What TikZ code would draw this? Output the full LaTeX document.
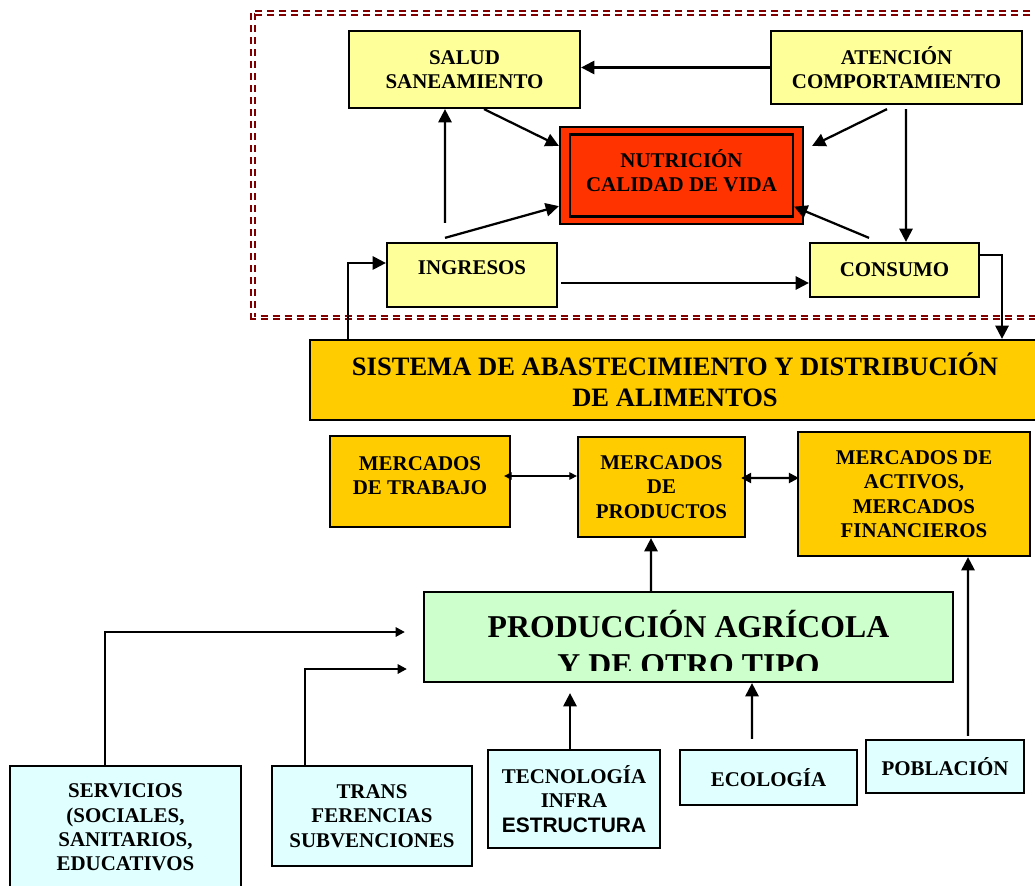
\documentclass[tikz,border=0pt]{standalone}
\usepackage{fontspec}
\setmainfont{Liberation Serif}
\newfontfamily\sansb{Liberation Sans}
\usetikzlibrary{arrows.meta}
\pgfdeclarelayer{bg}
\pgfsetlayers{bg,main}
\definecolor{lightyel}{HTML}{FFFF99}
\definecolor{nutred}{HTML}{FF3300}
\definecolor{marketor}{HTML}{FFCC00}
\definecolor{agrigreen}{HTML}{CCFFCC}
\definecolor{basecyan}{HTML}{E0FFFF}
\definecolor{framered}{HTML}{800000}
\newcommand\uptext[2]{\raisebox{#1}[\height][\depth]{#2}}
\tikzset{
    every node/.style={rectangle, draw, line width=1.6pt, inner sep=0mm, align=center,
        font=\bfseries\fontsize{14.9pt}{17.4pt}\selectfont}
}
\tikzset{ybox/.style={fill=lightyel}, rbox/.style={fill=nutred}, obox/.style={fill=marketor},
    gbox/.style={fill=agrigreen}, cbox/.style={fill=basecyan}}
\tikzset{
    arr/.style={-{Triangle[length=3.3mm,width=3.3mm]}, line width=1.6pt},
    sarr/.style={-{Triangle[length=2.3mm,width=2.3mm]}, line width=1.6pt},
    thinboth/.style={{Triangle[length=1.9mm,width=1.9mm]}-{Triangle[length=1.9mm,width=1.9mm]}, line width=0.8pt},
    thickboth/.style={{Triangle[length=2.5mm,width=2.5mm]}-{Triangle[length=2.5mm,width=2.5mm]}, line width=1.6pt},
    frame/.style={draw=framered, line width=1.4pt, double=white, double distance=1.4pt,
        dash pattern=on 0.175cm off 0.125cm}
}

\begin{document}
\begin{tikzpicture}
        \useasboundingbox (0cm, 0cm) rectangle (25.875cm, -22.15cm);
        \clip (0cm, 0cm) rectangle (25.875cm, -22.15cm);
        \node (salud) [ybox, minimum width=5.775cm, minimum height=1.925cm] at (11.612500cm, -1.737500cm) {SALUD\\SANEAMIENTO};
        \node (aten) [ybox, minimum width=6.275cm, minimum height=1.825cm] at (22.412500cm, -1.687500cm) {ATENCIÓN\\COMPORTAMIENTO};
        \node (nutout) [rbox, minimum width=6.075cm, minimum height=2.425cm] at (17.037500cm, -4.387500cm) {};
        \node (nut) [rbox, minimum width=5.575cm, minimum height=2.05cm] at (17.037500cm, -4.387500cm) {\uptext{0.125cm}{NUTRICIÓN}\\\uptext{0.125cm}{CALIDAD DE VIDA}};
        \node (ingr) [ybox, minimum width=4.25cm, minimum height=1.6cm] at (11.800000cm, -6.875000cm) {\uptext{0.175cm}{INGRESOS}};
        \node (cons) [ybox, minimum width=4.225cm, minimum height=1.35cm] at (22.362500cm, -6.750000cm) {CONSUMO};
        \node (sist) [obox, minimum width=18.25cm, minimum height=2cm, font=\bfseries\fontsize{18.9pt}{22.1pt}\selectfont] at (16.875000cm, -9.500000cm) {SISTEMA DE ABASTECIMIENTO Y DISTRIBUCIÓN\\DE ALIMENTOS};
        \node (trab) [obox, minimum width=4.5cm, minimum height=2.275cm] at (10.500000cm, -12.037500cm) {\uptext{0.15cm}{MERCADOS}\\\uptext{0.15cm}{DE TRABAJO}};
        \node (prod) [obox, minimum width=4.175cm, minimum height=2.5cm] at (16.537500cm, -12.175000cm) {MERCADOS\\DE\\PRODUCTOS};
        \node (activ) [obox, minimum width=5.8cm, minimum height=3.1cm] at (22.850000cm, -12.350000cm) {MERCADOS DE\\ACTIVOS,\\MERCADOS\\FINANCIEROS};
        \node (agri) [gbox, minimum width=13.225cm, minimum height=2.25cm] at (17.212500cm, -15.925000cm) {};
        \begin{scope}
                \clip (10.6cm, -14.8cm) rectangle (23.825cm, -16.75cm);
                \node (agritxt) [draw=none, font=\bfseries\fontsize{22.6pt}{27pt}\selectfont] at (17.212500cm, -16.075000cm) {PRODUCCIÓN AGRÍCOLA\\Y DE OTRO TIPO};
        \end{scope}
        \node (serv) [cbox, minimum width=5.775cm, minimum height=3.075cm] at (3.137500cm, -20.687500cm) {SERVICIOS\\(SOCIALES,\\SANITARIOS,\\EDUCATIVOS};
        \node (trans) [cbox, minimum width=5cm, minimum height=2.5cm] at (9.300000cm, -20.400000cm) {TRANS\\FERENCIAS\\SUBVENCIONES};
        \node (tecn) [cbox, minimum width=4.3cm, minimum height=2.45cm] at (14.350000cm, -19.975000cm) {TECNOLOGÍA\\INFRA\\{\sansb ESTRUCTURA}};
        \node (ecol) [cbox, minimum width=4.425cm, minimum height=1.375cm] at (19.212500cm, -19.437500cm) {ECOLOGÍA};
        \node (pobl) [cbox, minimum width=3.95cm, minimum height=1.325cm] at (23.625000cm, -19.162500cm) {POBLACIÓN};
        % tips that sit on a box edge
        \draw[arr] ([xshift=-0.6375cm,yshift=0.1cm]cons.north) -- ([yshift=0.275cm]nut.south east);
        \draw[thinboth] ([xshift=-0.175cm,yshift=0.1375cm]trab.east) -- ([yshift=0.275cm]prod.west);
        \draw[thickboth] ([xshift=-0.125cm,yshift=0.225cm]prod.east) -- ([xshift=0.05cm,yshift=0.4cm]activ.west);
        \begin{pgfonlayer}{bg}
                \draw[frame] (6.325cm, -0.33cm) rectangle (26.125cm, -7.9375cm);
                \draw[arr] (aten.west) -- (salud.east |- aten.west);
                \draw[arr] ([xshift=0.4875cm]salud.south) -- ([yshift=-0.5cm]nutout.north west);
                \draw[arr] ([xshift=-0.675cm,yshift=0.475cm]ingr.north) -- ([xshift=-0.4875cm]salud.south);
                \draw[arr] ([xshift=-0.675cm,yshift=0.1cm]ingr.north) -- ([yshift=0.475cm]nutout.south west);
                \draw[arr] ([xshift=-0.2375cm,yshift=-0.1cm]aten.south) -- ([xshift=0.2cm,yshift=-0.5cm]nutout.north east);
                \draw[arr] ([xshift=0.2375cm,yshift=-0.1cm]aten.south) -- ([xshift=0.2875cm]cons.north);
                \draw[arr] ([xshift=0.075cm,yshift=-0.2cm]ingr.east) -- ([yshift=-0.325cm]cons.west);
                \draw[arr] ([yshift=0.375cm]cons.east) -| ([xshift=8.175cm]sist.north);
                \draw[arr] ([xshift=0.975cm]sist.north west) |- ([yshift=0.3cm]ingr.west);
                \draw[arr] ([xshift=-0.9375cm,yshift=-0.15cm]agri.north) -- ([xshift=-0.2625cm]prod.south);
                \draw[arr] ([xshift=0.575cm,yshift=0.075cm]pobl.north) -- ([xshift=1.35cm]activ.south);
                \draw[sarr] ([xshift=-0.5125cm]serv.north) |- ([xshift=-0.45cm,yshift=0.125cm]agri.west);
                \draw[sarr] ([xshift=-1.675cm]trans.north) |- ([xshift=-0.4cm,yshift=-0.8cm]agri.west);
                \draw[arr] ([xshift=-0.1cm]tecn.north) -- ([xshift=-2.9625cm,yshift=-0.25cm]agri.south);
                \draw[arr] ([xshift=-0.4125cm,yshift=0.25cm]ecol.north) -- ([xshift=1.5875cm]agri.south);
        \end{pgfonlayer}
\end{tikzpicture}
\end{document}
